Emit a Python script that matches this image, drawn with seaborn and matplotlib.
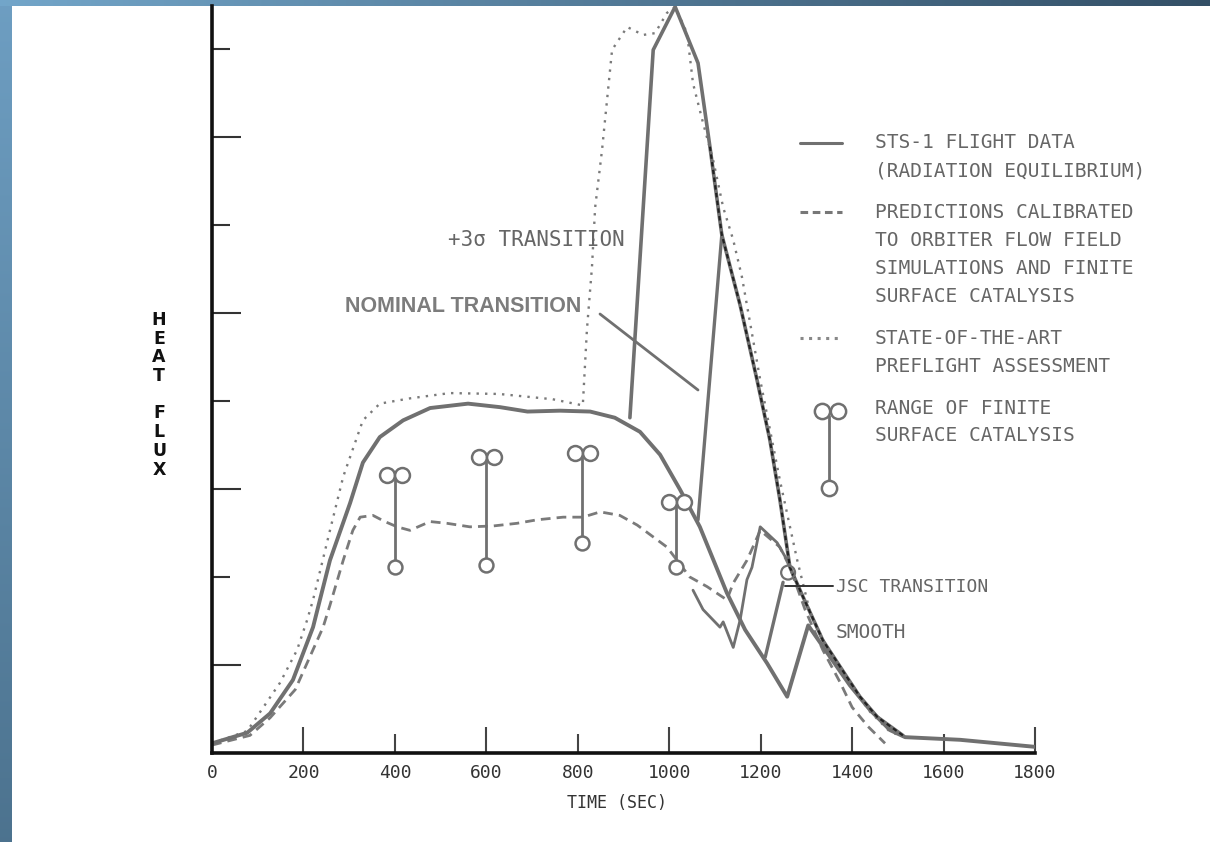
import matplotlib
matplotlib.use("Agg")
import matplotlib.pyplot as plt
from matplotlib.lines import Line2D
import numpy as np
import seaborn as sns

# ---- data (time in s, heat flux in axis units) ----
t_flight = [0, 77, 127, 177, 221, 236, 258, 302, 330, 367, 418, 477, 560, 630, 690, 761, 827,
            881, 936, 980, 1024, 1067, 1126, 1166, 1214, 1258, 1304, 1352, 1395, 1439, 1483,
            1516, 1636, 1800]
q_flight = [0.11, 0.23, 0.45, 0.83, 1.43, 1.74, 2.19, 2.84, 3.30, 3.59, 3.78, 3.92, 3.97, 3.93,
            3.88, 3.89, 3.88, 3.81, 3.65, 3.39, 2.99, 2.57, 1.82, 1.40, 1.02, 0.64, 1.45, 1.09,
            0.77, 0.49, 0.26, 0.18, 0.15, 0.07]

t_3sigma = [914, 965, 1013, 1063, 1089, 1115, 1155, 1192, 1220, 1242, 1264, 1293, 1336, 1389,
            1417, 1455, 1511]
q_3sigma = [3.81, 7.99, 8.48, 7.84, 6.89, 5.89, 5.09, 4.24, 3.56, 2.88, 2.11, 1.77, 1.28, 0.86,
            0.64, 0.41, 0.20]

t_nominal = [1063, 1115]
q_nominal = [2.65, 5.89]

t_jsc = [1210, 1249]
q_jsc = [1.09, 1.94]

t_jagged = [1052, 1074, 1111, 1118, 1140, 1155, 1170, 1181, 1199, 1236, 1258]
q_jagged = [1.85, 1.63, 1.43, 1.49, 1.20, 1.51, 1.97, 2.11, 2.57, 2.39, 2.19]

t_pred = [0, 83, 127, 182, 243, 258, 287, 308, 324, 352, 378, 405, 433, 477, 514, 564, 615,
          667, 711, 768, 811, 849, 892, 930, 995, 1045, 1083, 1126, 1140, 1170, 1183, 1199,
          1242, 1264, 1297, 1336, 1374, 1400, 1435, 1472]
q_pred = [0.09, 0.20, 0.40, 0.72, 1.43, 1.68, 2.19, 2.53, 2.68, 2.70, 2.63, 2.57, 2.53, 2.63,
          2.61, 2.57, 2.58, 2.61, 2.65, 2.68, 2.68, 2.74, 2.70, 2.59, 2.34, 2.00, 1.89, 1.74,
          1.93, 2.19, 2.34, 2.53, 2.34, 2.11, 1.63, 1.17, 0.80, 0.52, 0.30, 0.11]

# dark overprint on the steep decay after the peak
t_steep = [1089, 1115, 1155, 1192, 1220, 1242, 1264, 1293, 1336, 1389, 1417, 1455, 1511]
q_steep = [6.89, 5.89, 5.09, 4.24, 3.56, 2.88, 2.11, 1.77, 1.28, 0.86, 0.64, 0.41, 0.20]

t_preflight = [0, 77, 149, 186, 208, 221, 258, 287, 330, 367, 433, 520, 628, 745, 811, 820,
               831, 838, 853, 864, 875, 908, 943, 969, 995, 1013, 1039, 1052, 1074, 1096, 1118,
               1140, 1159, 1199, 1242, 1280, 1308, 1352, 1395, 1439, 1483, 1516]
q_preflight = [0.11, 0.25, 0.80, 1.17, 1.51, 1.74, 2.53, 3.14, 3.78, 3.97, 4.03, 4.09, 4.08,
               4.02, 3.95, 4.81, 5.52, 6.20, 6.85, 7.42, 7.99, 8.25, 8.16, 8.18, 8.41, 8.48,
               8.18, 7.61, 7.16, 6.74, 6.20, 5.83, 5.41, 4.24, 3.10, 2.19, 1.60, 1.12, 0.78,
               0.47, 0.24, 0.18]

t_catalysis = [400, 600, 810, 1015]
q_cat_high = [3.16, 3.36, 3.41, 2.85]
q_cat_low = [2.11, 2.14, 2.39, 2.11]

x_ticks = [0, 200, 400, 600, 800, 1000, 1200, 1400, 1600, 1800]

legend_lines = [
    ["STS-1 FLIGHT DATA", "(RADIATION EQUILIBRIUM)"],
    ["PREDICTIONS CALIBRATED", "TO ORBITER FLOW FIELD", "SIMULATIONS AND FINITE",
     "SURFACE CATALYSIS"],
    ["STATE-OF-THE-ART", "PREFLIGHT ASSESSMENT"],
    ["RANGE OF FINITE", "SURFACE CATALYSIS"],
]

W, H = 1210, 842
GRAY = "#707070"
TXT = "#666666"

sns.set_theme(style="white")
plt.rcParams["font.family"] = ["DejaVu Sans Mono", "DejaVu Sans"]

fig = plt.figure(figsize=(W / 100, H / 100), dpi=100)


def fpx(x, y):
    return x / W, 1 - y / H


# slide frame: blue gradient strips on the left and top
bg = fig.add_axes([0, 0, 1, 1], zorder=-5)
img = np.ones((H, W, 3))
rows = np.linspace(0, 1, H)[:, None, None]
cols = np.linspace(0, 1, W)[None, :, None]
lt, lb = np.array([0.43, 0.62, 0.76]), np.array([0.30, 0.45, 0.56])
tl, tr = np.array([0.45, 0.65, 0.79]), np.array([0.20, 0.31, 0.40])
img[:, :12] = lt + (lb - lt) * rows
img[:6] = tl + (tr - tl) * cols
bg.imshow(img, aspect="auto")
bg.axis("off")

ax = fig.add_axes([212 / W, 1 - 753 / H, (1035 - 212) / W, (753 - 6) / H])
ax.patch.set_alpha(0)
ax.set_xlim(0, 1800)
ax.set_ylim(0, 747 / 88)

line_kw = dict(ax=ax, sort=False, estimator=None, legend=False)
sns.lineplot(x=t_preflight, y=q_preflight, color="#7a7a7a", lw=1.7, linestyle=(0, (1, 2.6)),
             **line_kw)
sns.lineplot(x=t_pred, y=q_pred, color="#7a7a7a", lw=2.0, linestyle=(0, (3.5, 2.2)), **line_kw)
sns.lineplot(x=t_flight, y=q_flight, color=GRAY, lw=2.8, **line_kw)
sns.lineplot(x=t_3sigma, y=q_3sigma, color=GRAY, lw=2.6, **line_kw)
sns.lineplot(x=t_nominal, y=q_nominal, color=GRAY, lw=2.4, **line_kw)
sns.lineplot(x=t_jsc, y=q_jsc, color=GRAY, lw=2.4, **line_kw)
sns.lineplot(x=t_jagged, y=q_jagged, color=GRAY, lw=2.0, **line_kw)
sns.lineplot(x=t_steep, y=q_steep, color="#222222", lw=1.6, linestyle=(0, (2, 1.5)), **line_kw)

# range-of-catalysis symbols
dt = 16.5
ax.vlines(t_catalysis, q_cat_low, q_cat_high, color=GRAY, lw=2, zorder=4)
for t, hi, lo in zip(t_catalysis, q_cat_high, q_cat_low):
    ax.scatter([t - dt, t + dt], [hi, hi], s=115, facecolor="white", edgecolor=GRAY,
               linewidth=1.8, zorder=5)
    ax.scatter([t], [lo], s=100, facecolor="white", edgecolor=GRAY, linewidth=1.8, zorder=5)
ax.scatter([1260], [2.05], s=100, facecolor="none", edgecolor=GRAY, linewidth=1.6, zorder=5)

# axes styling
for side in ("top", "right"):
    ax.spines[side].set_visible(False)
for side in ("left", "bottom"):
    ax.spines[side].set_color("#111111")
    ax.spines[side].set_linewidth(2.6)

ax.set_xticks(x_ticks[1::2], labels=[str(v) for v in x_ticks[1::2]])
ax.set_xticks(x_ticks[0::2], labels=[str(v) for v in x_ticks[0::2]], minor=True)
ax.set_yticks([1, 3, 5, 7], labels=[])
ax.set_yticks([2, 4, 6, 8], labels=[], minor=True)
ax.tick_params(axis="x", which="both", direction="in", bottom=True, width=1.5, color="#444444",
               labelsize=13, labelcolor="#333333", pad=8)
ax.tick_params(axis="x", which="major", length=19)
ax.tick_params(axis="x", which="minor", length=14)
ax.tick_params(axis="y", which="both", direction="in", left=True, width=1.5, color="#333333")
ax.tick_params(axis="y", which="major", length=21)
ax.tick_params(axis="y", which="minor", length=13)
ax.set_xlabel("")
ax.set_ylabel("")

fig.text(*fpx(617, 803), "TIME (SEC)", fontsize=12, color="#333333", ha="center", va="center")

for ch, y in zip("HEATFLUX", [320, 339, 357, 376, 413, 432, 451, 470]):
    fig.text(*fpx(159, y), ch, fontsize=12.5, fontweight="bold", family="DejaVu Sans",
             color="#111111", ha="center", va="center")

# annotations
fig.text(*fpx(448, 240), "+3\u03c3 TRANSITION", fontsize=15, color=TXT, va="center")
fig.text(*fpx(345, 306), "NOMINAL TRANSITION", fontsize=15.5, fontweight="bold",
         family="Liberation Sans", color="#7c7c7c", va="center")
fig.add_artist(Line2D([600 / W, 698 / W], [1 - 314 / H, 1 - 390 / H], color=GRAY, lw=2))
fig.text(*fpx(836, 587), "JSC TRANSITION", fontsize=13, color=TXT, va="center")
fig.add_artist(Line2D([785 / W, 833 / W], [1 - 586 / H, 1 - 586 / H], color="#333333", lw=1.4))
fig.text(*fpx(836, 633), "SMOOTH", fontsize=14, color=TXT, va="center")

# hand-drawn style legend
for y, ls, c in [(143, "-", GRAY), (212, (0, (2.5, 1.5)), "#777777"),
                 (338, (0, (1, 1.8)), "#888888")]:
    fig.add_artist(Line2D([800 / W, 842 / W], [1 - y / H, 1 - y / H], color=c, lw=2.2,
                          linestyle=ls))
y0s = [143, 212, 338, 408]
for block, y0 in zip(legend_lines, y0s):
    for i, s in enumerate(block):
        fig.text(*fpx(875, y0 + 28 * i), s, fontsize=14, color=TXT, va="center")
fig.add_artist(Line2D([829 / W, 829 / W], [1 - 416 / H, 1 - 481 / H], color=GRAY, lw=2))
fig.add_artist(Line2D([822 / W, 838 / W, 829 / W], [1 - 411 / H, 1 - 411 / H, 1 - 488 / H],
                      linestyle="none", marker="o", markersize=11, markerfacecolor="white",
                      markeredgecolor=GRAY, markeredgewidth=1.8))

fig.savefig("out.png", dpi=100)
